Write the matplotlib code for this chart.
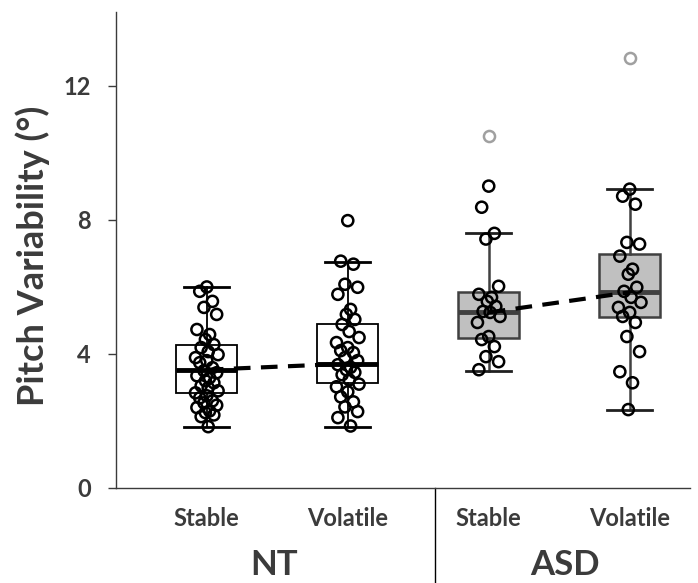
import matplotlib
matplotlib.use('Agg')
import matplotlib.pyplot as plt

plt.rcParams['font.family'] = ['Lato', 'DejaVu Sans']

# values (degrees)
nt_stable = [6.0, 5.87, 5.57, 5.39, 5.18, 4.73, 4.58, 4.43, 4.28, 4.19, 4.07, 3.98,
             3.89, 3.8, 3.74, 3.59, 3.5, 3.44, 3.35, 3.29, 3.2, 3.14, 3.05, 2.99,
             2.9, 2.84, 2.75, 2.69, 2.6, 2.54, 2.47, 2.4, 2.3, 2.25, 2.18, 2.13, 1.83]
nt_volatile = [7.98, 6.77, 6.68, 6.08, 5.99, 5.78, 5.33, 5.18, 5.03, 4.88, 4.67,
               4.49, 4.34, 4.19, 4.1, 4.04, 3.89, 3.8, 3.68, 3.6, 3.53, 3.45, 3.38,
               3.23, 3.1, 3.02, 2.87, 2.72, 2.57, 2.42, 2.28, 2.1, 1.85]
asd_stable = [9.01, 8.38, 7.6, 7.43, 6.02, 5.78, 5.69, 5.57, 5.42, 5.27, 5.24,
              5.12, 4.94, 4.52, 4.43, 4.22, 3.92, 3.77, 3.53]
asd_volatile = [8.92, 8.71, 8.47, 7.33, 7.28, 6.92, 6.53, 6.38, 5.99, 5.87, 5.69,
                5.54, 5.39, 5.24, 5.12, 4.94, 4.52, 4.07, 3.47, 3.14, 2.34]
outliers = [[], [], [10.51], [12.84]]

# box summary (q1, median, q3, whisker low, whisker high)
q1 = [2.84, 3.14, 4.49, 5.09]
med = [3.53, 3.71, 5.24, 5.84]
q3 = [4.28, 4.88, 5.84, 6.98]
whislo = [1.83, 1.83, 3.5, 2.34]
whishi = [6.0, 6.74, 7.6, 8.92]

conditions = ['Stable', 'Volatile', 'Stable', 'Volatile']
groups = ['NT', 'ASD']

data = [nt_stable, nt_volatile, asd_stable, asd_volatile]
pos = [1, 2, 3, 4]
jitter = [0.0, -0.05, 0.04, -0.02, 0.07, -0.07, 0.02, -0.01, 0.05, -0.04, 0.01, 0.08, -0.08]

txt = '#3b3b3b'

fig = plt.figure(figsize=(6.98, 5.83), dpi=100)
ax = fig.add_axes([0.166, 0.163, 0.823, 0.816])

for i in range(4):
    asd = i >= 2
    edge = '#404040' if asd else 'black'
    face = '#c0c0c0' if asd else 'white'
    stats = [dict(q1=q1[i], med=med[i], q3=q3[i], whislo=whislo[i],
                  whishi=whishi[i], fliers=outliers[i])]
    ax.bxp(stats, positions=[pos[i]], widths=0.43, capwidths=0.32,
           patch_artist=True, manage_ticks=False,
           boxprops=dict(facecolor=face, edgecolor=edge, linewidth=1.8 if asd else 1.3),
           whiskerprops=dict(color=edge, linewidth=1.8 if asd else 1.3),
           capprops=dict(color='black' if not asd else '#202020', linewidth=2),
           medianprops=dict(color=edge, linewidth=3.5),
           flierprops=dict(marker='o', markerfacecolor='none', markeredgecolor='#a0a0a0',
                           markersize=8, markeredgewidth=1.8),
           zorder=2)
    xs = [pos[i] + jitter[k % len(jitter)] for k in range(len(data[i]))]
    ax.scatter(xs, data[i], s=64, facecolors='none', edgecolors='black',
               linewidths=1.8, zorder=3)

# dashed lines linking medians within each group
ax.plot([1, 2], [med[0], med[1]], color='black', lw=3, ls=(0, (4, 2.5)), zorder=4)
ax.plot([3, 4], [med[2], med[3]], color='black', lw=3, ls=(0, (4, 2.5)), zorder=4)

ax.set_xlim(0.355, 4.43)
ax.set_ylim(0, 14.2)
ax.set_yticks([0, 4, 8, 12])
ax.set_xticks(pos)
ax.set_xticklabels(conditions)
ax.tick_params(axis='x', length=0, pad=14, labelsize=17, labelcolor=txt)
ax.tick_params(axis='y', length=6, width=1, color=txt, labelsize=17, labelcolor=txt, pad=12)
for lab in ax.get_xticklabels() + ax.get_yticklabels():
    lab.set_fontweight('bold')

for s in ['top', 'right']:
    ax.spines[s].set_visible(False)
for s in ['left', 'bottom']:
    ax.spines[s].set_color(txt)
    ax.spines[s].set_linewidth(1)

# group labels and divider
ax.text(1.48, -0.162, groups[0], transform=ax.get_xaxis_transform(), ha='center',
        va='center', fontsize=25, fontweight='bold', color=txt)
ax.text(3.54, -0.162, groups[1], transform=ax.get_xaxis_transform(), ha='center',
        va='center', fontsize=25, fontweight='bold', color=txt)
ax.plot([2.62, 2.62], [0, -0.21], transform=ax.get_xaxis_transform(),
        color='black', lw=1, clip_on=False)

fig.text(0.047, 0.561, 'Pitch Variability (°)', rotation=90, ha='center', va='center',
         fontsize=26, fontweight='bold', color=txt)

fig.savefig('out.png', dpi=100)
